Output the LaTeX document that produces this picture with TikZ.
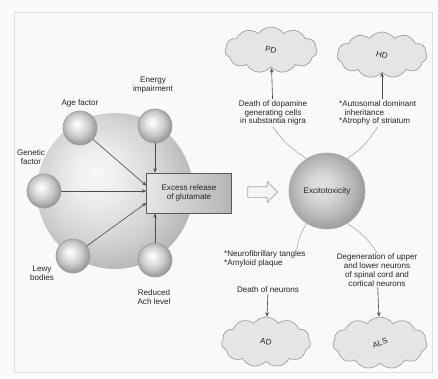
\documentclass[tikz,border=0pt]{standalone}
\usepackage{fontspec}
\setmainfont{Liberation Sans}
\usetikzlibrary{shapes.symbols,shapes.arrows,arrows.meta}

\pgfdeclareradialshading{bigball}{\pgfpoint{-7bp}{6bp}}{color(0bp)=(gray!6); color(8bp)=(gray!14); color(20bp)=(gray!35); color(29bp)=(gray!58); color(50bp)=(gray!62)}
\pgfdeclareradialshading{smallball}{\pgfpoint{-5bp}{6bp}}{color(0bp)=(white); color(6bp)=(gray!12); color(17bp)=(gray!42); color(26bp)=(gray!78); color(50bp)=(gray!80)}
\pgfdeclareradialshading{exball}{\pgfpoint{-4bp}{3bp}}{color(0bp)=(gray!22); color(9bp)=(gray!32); color(20bp)=(gray!58); color(28bp)=(gray!82); color(50bp)=(gray!85)}

\begin{document}
\begin{tikzpicture}[x=0.02cm,y=-0.02cm,
    every node/.style={font=\fontsize{4.6}{5}\selectfont, text=black!85},
    cause/.style={circle, minimum size=0.68cm, shade, shading=smallball, draw=gray!75},
    note/.style={align=center, inner sep=0.5pt},
    disease/.style={cloud, cloud puffs=11, cloud puff arc=110, cloud ignores aspect,
      draw=gray!75, fill=gray!20, inner sep=0pt},
    feed/.style={-{Stealth[length=2.5pt,width=2pt]}, draw=gray!60!black, line width=0.35pt},
    link/.style={draw=gray!60, line width=0.4pt}]
  \path[use as bounding box, fill=white!96!gray] (0,0) rectangle (438,378);
  \draw[gray!25, fill=gray!5] (14,12) rectangle (432,372);

  % causes
  \node[circle, minimum size=3.12cm, shade, shading=bigball] (core) at (115,191) {};
  \node[draw=gray!70!black, left color=gray!20, right color=gray!58, minimum width=1.7cm,
    minimum height=0.8cm, align=center] (glu) at (189,193) {Excess release\\of glutamate};
  \node[cause] (age) at (80,128) {};
  \node[cause] (energy) at (155,126) {};
  \node[cause] (genetic) at (44,191) {};
  \node[cause] (lewy) at (73,256) {};
  \node[cause] (ach) at (155,260) {};
  \node[note] (agelbl) at (80,103) {Age factor};
  \node[note] (energylbl) at (153,85) {Energy\\impairment};
  \node[note] (geneticlbl) at (31,157) {Genetic\\factor};
  \node[note] (lewylbl) at (42,273) {Lewy\\bodies};
  \node[note] (achlbl) at (154,297) {Reduced\\Ach level};
  \begin{scope}[feed]
    \draw (age) -- ([yshift=0.15cm]glu.west);
    \draw (energy) -- (energy |- glu.north);
    \draw (genetic) -- (genetic -| glu.west);
    \draw (lewy) -- ([yshift=-0.2cm]glu.west);
    \draw (ach) -- (ach |- glu.south);
  \end{scope}

  \node[single arrow, draw=gray!70, fill=gray!8, minimum height=0.6cm, inner xsep=0pt,
    inner ysep=0.1cm, single arrow head extend=0.1cm] (flow) at (260,192) {};

  % outcomes
  \node[circle, minimum size=1.52cm, shade, shading=exball, draw=gray!65] (exc) at (327,191) {Excitotoxicity};
  \node[disease, minimum width=1.84cm, minimum height=0.92cm] (pd) at (271,50) {\rotatebox{-12}{PD}};
  \node[disease, minimum width=1.8cm, minimum height=0.92cm] (hd) at (382,55) {\rotatebox{-14}{HD}};
  \node[disease, minimum width=1.78cm, minimum height=1.0cm] (ad) at (266,342) {\rotatebox{-10}{AD}};
  \node[disease, minimum width=1.88cm, minimum height=1.04cm] (als) at (380,343) {\rotatebox{18}{ALS}};
  \node[note] (pdtxt) at (273,113) {Death of dopamine\\generating cells\\in substantia nigra};
  \node[note, align=left, anchor=west] (hdtxt) at (338,113) {*Autosomal dominant\\\hspace{3pt}inheritance\\*Atrophy of striatum};
  \node[note, align=left, anchor=west] (adtxt) at (223,259) {*Neurofibrillary tangles\\*Amyloid plaque};
  \node[note] (death) at (268,290) {Death of neurons};
  \node[note] (alstxt) at (377,270) {Degeneration of upper\\and lower neurons\\of spinal cord and\\cortical neurons};
  \begin{scope}[link]
    \draw (exc.122) to[bend left=12] (pdtxt.south);
    \draw (exc.58) to[bend right=12] (hdtxt.south);
    \draw (exc.238) to[bend right=12] ([xshift=-0.2cm]adtxt.north east);
    \draw (exc.302) to[bend left=12] (alstxt.north);
  \end{scope}
  \begin{scope}[feed]
    \draw (pdtxt) -- (pd);
    \draw (hd.south |- hdtxt.north) -- (hd.south);
    \draw (death) -- (ad);
    \draw (alstxt) -- (als);
  \end{scope}
\end{tikzpicture}
\end{document}
